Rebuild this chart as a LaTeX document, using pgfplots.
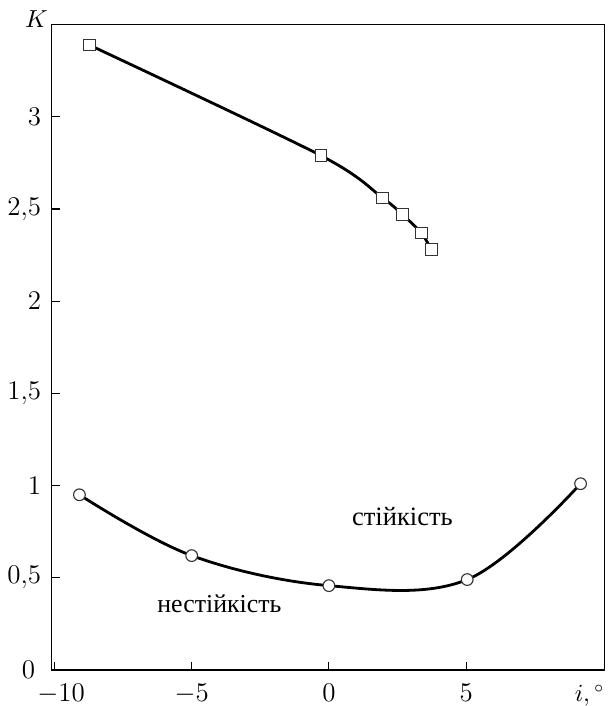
\documentclass[border=0pt]{standalone}
\usepackage{pgfplots}
\pgfplotsset{compat=1.18}
\usepackage{fontspec}
\newfontfamily\ukrfont[Script=Cyrillic]{Liberation Serif}
\begin{document}
\begin{tikzpicture}
\begin{axis}[
  scale only axis,
  width=246pt, height=287pt,
  xmin=-10.1, xmax=10.05,
  ymin=0, ymax=3.5,
  xtick={-10,-5,0,5},
  xticklabels={{\hspace*{6pt}$-10$}, $-5$, $0$, $5$},
  ytick={0,0.5,1,1.5,2,2.5,3},
  yticklabels={{$0$\hspace*{2.7pt}}, $0{,}5$, $1$, $1{,}5$, $2$, $2{,}5$, $3$},
  tick align=inside,
  xtick pos=bottom, ytick pos=left,
  major tick length=3.6pt,
  axis line style={line width=0.6pt},
  tick style={line width=0.5pt, black},
  ticklabel style={font=\fontsize{11.5}{14}\selectfont, inner sep=0pt},
  xticklabel style={anchor=north, yshift=-6pt},
  yticklabel style={anchor=east, xshift=-4.5pt},
  clip=false,
]
\addplot[line width=1.25pt, smooth, tension=0.5, mark=square*, mark size=2.6pt,
  mark options={fill=white, draw=black!80, line width=0.5pt}]
  coordinates {(-8.73,3.39) (-0.29,2.79) (1.96,2.56) (2.68,2.47) (3.37,2.37) (3.73,2.28)};
\addplot[line width=1.25pt, smooth, tension=0.6, mark=*, mark size=2.6pt,
  mark options={fill=white, draw=black!80, line width=0.5pt}]
  coordinates {(-9.09,0.95) (-5,0.62) (0,0.457) (5.04,0.49) (9.17,1.01)};
\node[font=\ukrfont\fontsize{11.8}{14}\selectfont] at (axis cs:2.68,0.83) {стійкість};
\node[font=\ukrfont\fontsize{11.5}{14}\selectfont] at (axis cs:-3.99,0.36) {нестійкість};
\node[anchor=base east, inner sep=0pt, font=\fontsize{11}{13}\selectfont] at (rel axis cs:0,1) [xshift=-1.5pt, yshift=-1.3pt] {$K$};
\node[anchor=north, inner sep=0pt, font=\fontsize{10.5}{12}\selectfont] at (axis cs:9.5,0) [yshift=-6.5pt] {$i,{}^\circ$};
\coordinate (TL) at (rel axis cs:0,1);
\coordinate (BR) at (rel axis cs:1,0);
\end{axis}
\path (TL) ++(-23pt,11pt) coordinate (TLX);
\path (BR) ++(2.2pt,0pt) coordinate (BRX);
\path (TLX) -- (BRX);
\end{tikzpicture}
\end{document}
